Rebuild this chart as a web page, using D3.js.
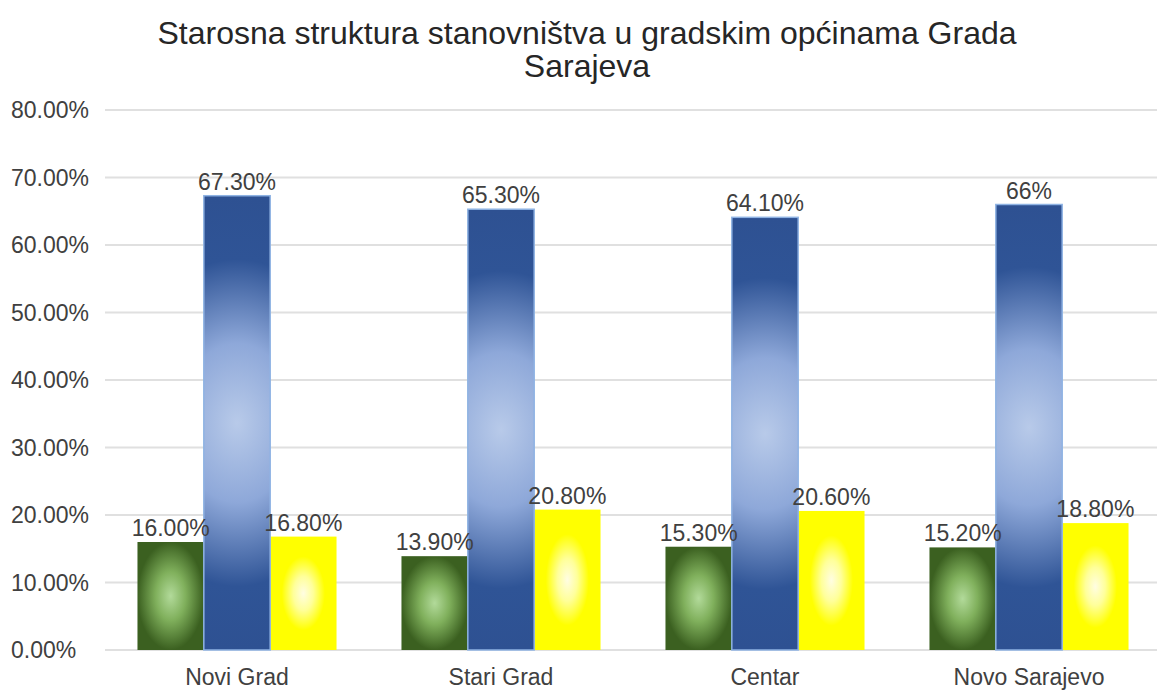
<!DOCTYPE html>
<html>
<head>
<meta charset="utf-8">
<script src="https://cdn.jsdelivr.net/npm/d3@7"></script>
<style>
html,body{margin:0;padding:0;background:#fff;}
svg{display:block;font-family:"Liberation Sans",Arial,sans-serif;}
</style>
</head>
<body>
<svg id="chart" width="1157" height="691"></svg>
<script>
const titleLines = ["Starosna struktura stanovništva u gradskim općinama Grada", "Sarajeva"];
const categories = ["Novi Grad", "Stari Grad", "Centar", "Novo Sarajevo"];
const seriesNames = ["0-14", "15-64", "65+"];
const values014 = [0.160, 0.139, 0.153, 0.152];
const values1564 = [0.673, 0.653, 0.641, 0.660];
const values65 = [0.168, 0.208, 0.206, 0.188];
const labels014 = ["16.00%", "13.90%", "15.30%", "15.20%"];
const labels1564 = ["67.30%", "65.30%", "64.10%", "66%"];
const labels65 = ["16.80%", "20.80%", "20.60%", "18.80%"];
const yTicks = [0, 0.1, 0.2, 0.3, 0.4, 0.5, 0.6, 0.7, 0.8];

(function () {
const seriesValues = [values014, values1564, values65];
const seriesLabels = [labels014, labels1564, labels65];

const svg = d3.select("#chart");
const W = 1157;
const pLeft = 105, pRight = 1161, pTop = 110, pBottom = 650;

const x0 = d3.scaleBand().domain(categories).range([pLeft, pRight]).paddingInner(0.246).paddingOuter(0.123);
const x1 = d3.scaleBand().domain(seriesNames).range([0, x0.bandwidth()]).padding(0);
const y = d3.scaleLinear().domain([0, 0.8]).range([pBottom, pTop]);

const defs = svg.append("defs");
const gradSpecs = [
  {id: "g0", stops: [[0, "#b2da9a"], [0.45, "#80b05c"], [1, "#3b6020"]], sx: 1},
  {id: "g1", stops: [[0, "#b8cae9"], [0.35, "#8ea8d9"], [0.72, "#2f5496"], [1, "#2e5192"]], sx: 5},
  {id: "g2", stops: [[0, "#fffde2"], [0.3, "#ffff9a"], [0.65, "#ffff00"], [1, "#ffff00"]], sx: 1}
];
gradSpecs.forEach(g => {
  const rg = defs.append("radialGradient")
    .attr("id", g.id)
    .attr("cx", 0.5).attr("cy", 0.5).attr("r", 0.5)
    .attr("gradientTransform", `translate(0.5,0.5) scale(${g.sx},1) translate(-0.5,-0.5)`);
  g.stops.forEach(s => rg.append("stop").attr("offset", s[0]).attr("stop-color", s[1]));
});

svg.append("g").selectAll("line").data(yTicks).join("line")
  .attr("x1", pLeft).attr("x2", W)
  .attr("y1", d => y(d)).attr("y2", d => y(d))
  .attr("stroke", "#e0e0e0").attr("stroke-width", 2);

svg.append("g").selectAll("text").data(yTicks).join("text")
  .attr("x", 11).attr("y", d => y(d)).attr("dy", "0.36em")
  .attr("font-size", 23).attr("fill", "#404040")
  .text(d => d3.format(".2%")(d));

const flat = [];
categories.forEach((c, i) => {
  seriesNames.forEach((s, j) => {
    flat.push({cat: c, ser: s, j: j, v: seriesValues[j][i], label: seriesLabels[j][i]});
  });
});

const barsG = svg.append("g");
[0, 2, 1].forEach(j => {
  barsG.selectAll("rect.s" + j).data(flat.filter(d => d.j === j)).join("rect")
    .attr("class", "s" + j)
    .attr("x", d => x0(d.cat) + x1(d.ser))
    .attr("width", x1.bandwidth())
    .attr("y", d => y(d.v))
    .attr("height", d => y(0) - y(d.v))
    .attr("fill", `url(#g${j})`)
    .attr("stroke", j === 1 ? "#8fb3e3" : "none")
    .attr("stroke-width", j === 1 ? 1.5 : 0);
});

svg.append("g").selectAll("text").data(flat).join("text")
  .attr("x", d => x0(d.cat) + x1(d.ser) + x1.bandwidth() / 2)
  .attr("y", d => y(d.v) - 6)
  .attr("text-anchor", "middle")
  .attr("font-size", 23).attr("fill", "#404040")
  .text(d => d.label);

svg.append("g").selectAll("text").data(categories).join("text")
  .attr("x", d => x0(d) + x0.bandwidth() / 2)
  .attr("y", 685)
  .attr("text-anchor", "middle")
  .attr("font-size", 23).attr("fill", "#404040")
  .text(d => d);

svg.append("g").selectAll("text").data(titleLines).join("text")
  .attr("x", 587).attr("y", (d, i) => 44 + i * 33)
  .attr("text-anchor", "middle")
  .attr("font-size", 32).attr("fill", "#262626")
  .text(d => d);
})();
</script>
</body>
</html>
